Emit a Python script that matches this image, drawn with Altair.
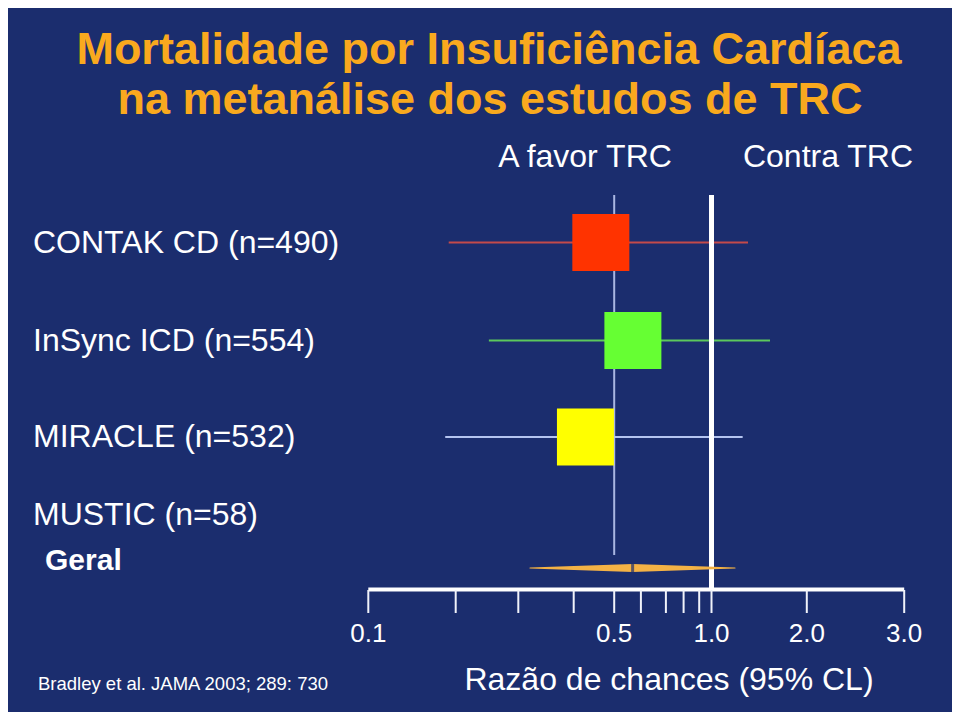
import altair as alt
import pandas as pd

# ---- data ----
studies = ["CONTAK CD (n=490)", "InSync ICD (n=554)", "MIRACLE (n=532)", "MUSTIC (n=58)"]
study_rows = [1, 2, 3, 4]
or_est = [0.467, 0.570, 0.429, None]
ci_low = [0.192, 0.253, 0.188, None]
ci_high = [1.383, 1.614, 1.327, None]
line_colors = ["#C44A4A", "#5CC85C", "#B4C4F0", "#B4C4F0"]
box_colors = ["#FF3300", "#66FF33", "#FFFF00", "#FFFF00"]

overall_label = "Geral"
overall_row = 5
overall_est = 0.569
overall_low = 0.321
overall_high = 1.247

tick_values = [0.1, 0.2, 0.3, 0.4, 0.5, 0.6, 0.7, 0.8, 0.9, 1.0, 2.0, 3.0]
tick_labels = ["0.1", "0.5", "1.0", "2.0", "3.0"]
label_values = [0.1, 0.5, 1.0, 2.0, 3.0]
null_value = 1.0
ref_value = 0.5

BG = "#1B2D6E"
FONT = "Liberation Sans"

# ---- scales (hand-drawn axis of the slide: piecewise) ----
xscale = alt.Scale(
    domain=tick_values,
    range=[360.3, 447.7, 510.3, 565.7, 606.2, 632.9, 657.9, 675.6, 691.2, 703.5, 798.8, 896.2],
    nice=False, zero=False, clamp=False,
)
yscale = alt.Scale(domain=[1, 2, 3, 4, 5], range=[234.5, 332.5, 429, 507, 560],
                   nice=False, zero=False)

df = pd.DataFrame({
    "study": studies, "row": study_rows, "est": or_est, "lo": ci_low, "hi": ci_high,
    "lc": line_colors, "bc": box_colors,
})
df_ok = df.dropna()

X = lambda f: alt.X(f, type="quantitative", scale=xscale, axis=None)
Y = lambda f: alt.Y(f, type="quantitative", scale=yscale, axis=None)

# vertical reference lines
null_df = pd.DataFrame({"v": [null_value]})
ref_df = pd.DataFrame({"v": [ref_value]})
thin_line = alt.Chart(ref_df).mark_rule(color="#A9B6E2", strokeWidth=2).encode(
    x=X("v"), y=alt.value(187), y2=alt.value(547))

# CI lines
ci = alt.Chart(df_ok).mark_rule(strokeWidth=2).encode(
    x=X("lo"), x2="hi", y=Y("row"), color=alt.Color("lc:N", scale=None))

# boxes
boxes = alt.Chart(df_ok).mark_square(size=3249, opacity=1, filled=True).encode(
    x=X("est"), y=Y("row"), color=alt.Color("bc:N", scale=None))

thick_line = alt.Chart(null_df).mark_rule(color="white", strokeWidth=5).encode(
    x=X("v"), y=alt.value(187), y2=alt.value(581.5))

# overall diamond (trail with varying width)
dia = pd.DataFrame({
    "x": [overall_low, overall_est, overall_high],
    "row": [overall_row] * 3,
    "ord": [0, 1, 2],
})
dia["w"] = [0, 8, 0]
diamond = alt.Chart(dia).mark_trail(color="#F4B245").encode(
    x=X("x"), y=Y("row"), order="ord:Q", size=alt.Size("w:Q", scale=None))
gap = alt.Chart(pd.DataFrame({"v": [overall_est], "row": [overall_row]})).mark_tick(
    color=BG, thickness=3, size=12, orient="vertical").encode(x=X("v"), y=Y("row"))

# axis
axis_df = pd.DataFrame({"lo": [min(tick_values)], "hi": [max(tick_values)]})
axis_line = alt.Chart(axis_df).mark_rule(color="white", strokeWidth=4).encode(
    x=X("lo"), x2="hi", y=alt.value(581.5))
ticks = alt.Chart(pd.DataFrame({"t": tick_values})).mark_rule(color="#F0F2FA", strokeWidth=2).encode(
    x=X("t"), y=alt.value(582), y2=alt.value(605))
tick_text = alt.Chart(pd.DataFrame({"t": label_values, "lab": tick_labels})).mark_text(
    color="white", fontSize=26, font=FONT, baseline="middle", align="center").encode(
    x=X("t"), y=alt.value(626), text="lab:N")

# row labels
row_text = alt.Chart(df).mark_text(color="white", fontSize=32, font=FONT, align="left",
                                   baseline="middle").encode(
    x=alt.value(25), y=Y("row"), text="study:N")
geral_text = alt.Chart(pd.DataFrame({"lab": [overall_label], "row": [overall_row]})).mark_text(
    color="white", fontSize=30, font=FONT, fontWeight="bold", align="left", baseline="middle",
    dy=-7).encode(x=alt.value(37), y=Y("row"), text="lab:N")

def label(txt, x, y, size, color="white", weight="normal", align="center"):
    return alt.Chart(pd.DataFrame({"t": [txt]})).mark_text(
        color=color, fontSize=size, font=FONT, fontWeight=weight, align=align,
        baseline="middle").encode(x=alt.value(x), y=alt.value(y), text="t:N")

TITLE_C = "#F9A91E"
title1 = label("Mortalidade por Insuficiência Cardíaca", 481, 42, 45, TITLE_C, "bold")
title2 = label("na metanálise dos estudos de TRC", 482, 92, 45, TITLE_C, "bold")
hdr1 = label("A favor TRC", 577, 149, 32)
hdr2 = label("Contra TRC", 820, 149, 32)
xtitle = label("Razão de chances (95% CL)", 661, 672, 32)
foot = label("Bradley et al. JAMA 2003; 289: 730", 30, 676, 18.5, align="left")

chart = alt.layer(
    thin_line, ci, boxes, thick_line, diamond, gap, axis_line, ticks, tick_text,
    row_text, geral_text, title1, title2, hdr1, hdr2, xtitle, foot,
).properties(
    width=944, height=704, autosize=alt.AutoSizeParams(type="none"), padding=0,
).configure(background=BG).configure_view(stroke=None, fill=BG)

chart.save("out.html", embed_options={"renderer": "svg", "actions": False})
